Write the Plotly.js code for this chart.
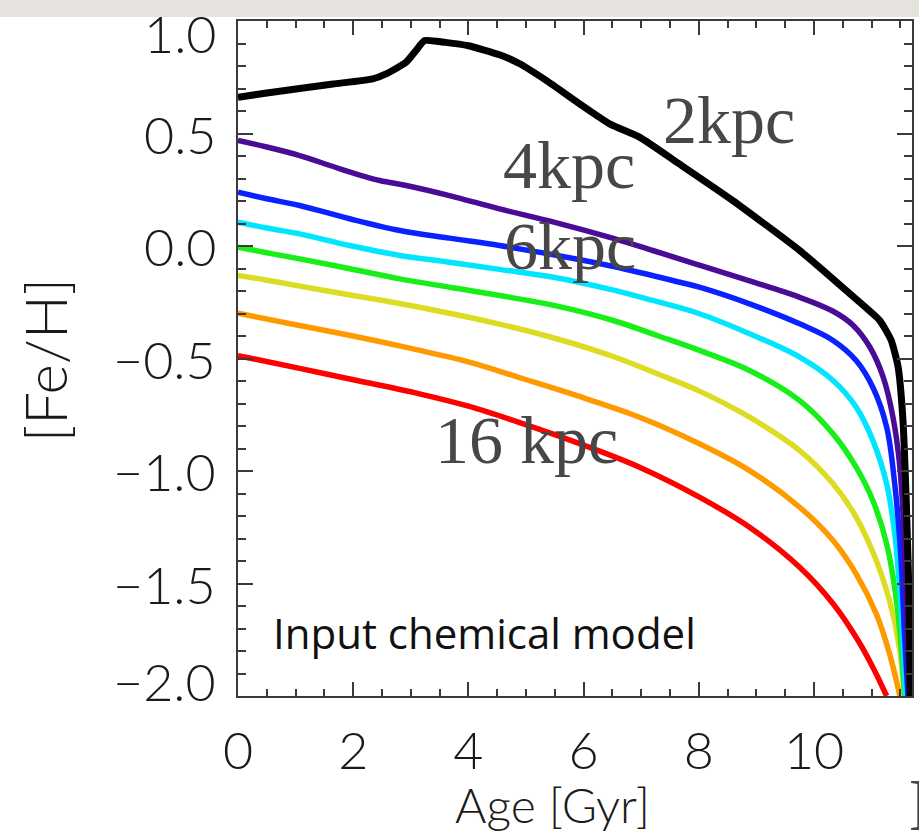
<!DOCTYPE html>
<html>
<head>
<meta charset="utf-8">
<script src="https://cdn.plot.ly/plotly-3.0.1.min.js"></script>
<style>
  html, body { margin: 0; padding: 0; background: #ffffff; }
  #chart { width: 919px; height: 832px; }
</style>
</head>
<body>
<div id="chart"></div>
<script>
// Radial metallicity history of the input chemical model: [Fe/H] against stellar age
const radiusNames = ['2 kpc', '4 kpc', '6 kpc', '8 kpc', '10 kpc', '12 kpc', '14 kpc', '16 kpc'];

const age_2kpc = [0, 0.5, 1.07, 1.65, 2.34, 2.57, 2.75, 2.92, 3.09, 3.24, 3.6, 4.0, 4.54, 4.89, 5.35, 5.93, 6.45, 6.97, 7.66, 8.59, 9.75, 10.62, 11.14, 11.34, 11.46, 11.54, 11.60, 11.65, 11.67];
const feh_2kpc = [0.661, 0.68, 0.70, 0.72, 0.743, 0.765, 0.79, 0.817, 0.869, 0.913, 0.905, 0.89, 0.85, 0.81, 0.736, 0.632, 0.543, 0.484, 0.365, 0.202, -0.02, -0.212, -0.331, -0.42, -0.539, -0.761, -1.131, -1.576, -2.0];

const age_4kpc = [0, 0.5, 1.07, 1.77, 2.46, 2.92, 3.67, 4.54, 5.5, 6.5, 7.2, 8.01, 8.88, 9.75, 10.33, 10.68, 10.97, 11.20, 11.37, 11.49, 11.56, 11.61, 11.65];
const feh_4kpc = [0.469, 0.44, 0.402, 0.343, 0.291, 0.269, 0.224, 0.165, 0.105, 0.035, -0.02, -0.085, -0.155, -0.228, -0.29, -0.353, -0.45, -0.583, -0.761, -0.983, -1.279, -1.65, -2.0];

const age_6kpc = [0, 0.5, 1.07, 1.94, 2.81, 3.67, 4.54, 5.5, 6.5, 7.67, 8.01, 8.88, 9.75, 10.33, 10.73, 11.02, 11.26, 11.40, 11.50, 11.57, 11.63];
const feh_6kpc = [0.239, 0.21, 0.18, 0.121, 0.069, 0.035, 0.002, -0.04, -0.09, -0.161, -0.183, -0.257, -0.346, -0.42, -0.509, -0.628, -0.805, -1.057, -1.353, -1.724, -2.0];

const age_8kpc = [0, 0.5, 1.07, 1.94, 2.81, 3.67, 4.54, 5.5, 6.5, 7.2, 8.01, 8.88, 9.75, 10.33, 10.73, 11.02, 11.26, 11.40, 11.50, 11.59];
const feh_8kpc = [0.106, 0.08, 0.054, 0.002, -0.042, -0.072, -0.104, -0.14, -0.195, -0.242, -0.301, -0.39, -0.494, -0.598, -0.716, -0.864, -1.057, -1.279, -1.576, -2.0];

const age_10kpc = [0, 0.5, 1.07, 1.94, 2.81, 3.67, 4.54, 5.5, 6.5, 7.3, 8.01, 8.88, 9.75, 10.33, 10.73, 11.02, 11.26, 11.43, 11.54, 11.57];
const feh_10kpc = [-0.005, -0.03, -0.057, -0.101, -0.146, -0.183, -0.22, -0.265, -0.33, -0.40, -0.464, -0.553, -0.687, -0.835, -0.983, -1.131, -1.324, -1.576, -1.872, -2.0];

const age_12kpc = [0, 0.5, 1.0, 2.0, 2.52, 3.5, 4.5, 5.5, 6.5, 7.3, 8.01, 8.88, 9.75, 10.33, 10.73, 11.08, 11.31, 11.49, 11.56];
const feh_12kpc = [-0.131, -0.152, -0.175, -0.22, -0.242, -0.29, -0.345, -0.41, -0.49, -0.57, -0.645, -0.761, -0.909, -1.057, -1.205, -1.398, -1.576, -1.798, -2.0];

const age_14kpc = [0, 1.0, 2.0, 3.0, 4.0, 4.95, 6.0, 6.97, 8.01, 8.88, 9.75, 10.33, 10.73, 11.08, 11.31, 11.49];
const feh_14kpc = [-0.299, -0.35, -0.40, -0.455, -0.515, -0.59, -0.675, -0.761, -0.879, -0.998, -1.161, -1.309, -1.457, -1.635, -1.812, -2.0];

const age_16kpc = [0, 1.07, 1.94, 3.15, 4.0, 4.89, 6.0, 6.97, 8.01, 8.88, 9.75, 10.33, 10.73, 11.02, 11.26];
const feh_16kpc = [-0.487, -0.544, -0.591, -0.657, -0.712, -0.785, -0.885, -0.983, -1.116, -1.25, -1.428, -1.59, -1.739, -1.872, -2.0];

const xTickVals = [0, 2, 4, 6, 8, 10];
const xTickText = ['0', '2', '4', '6', '8', '10'];
const yTickVals = [1.0, 0.5, 0.0, -0.5, -1.0, -1.5, -2.0];
const yTickText = ['1.0', '0.5', '0.0', '\u22120.5', '\u22121.0', '\u22121.5', '\u22122.0'];

const ages = [age_2kpc, age_4kpc, age_6kpc, age_8kpc, age_10kpc, age_12kpc, age_14kpc, age_16kpc];
const fehs = [feh_2kpc, feh_4kpc, feh_6kpc, feh_8kpc, feh_10kpc, feh_12kpc, feh_14kpc, feh_16kpc];

// rainbow palette, inner radii drawn last so the black curve sits on top
const palette = ['#000000', '#4a0c96', '#0a22ff', '#00e6ff', '#18ee18', '#dcdc22', '#ff9900', '#ff0000'];

const traces = [];
for (let i = ages.length - 1; i >= 0; i--) {
  traces.push({
    type: 'scatter',
    mode: 'lines',
    name: radiusNames[i],
    x: ages[i],
    y: fehs[i],
    line: {
      color: palette[i],
      width: i === 0 ? 7 : 5.5,
      shape: 'spline',
      smoothing: i === 0 ? 0.5 : 1.0
    },
    hoverinfo: 'x+y+name'
  });
}

const sansFamily = 'Lato, "DejaVu Sans", sans-serif';
const tickFont = { family: sansFamily, size: 52, color: '#1a1a1a', weight: 300 };
const serifLabel = { family: '"Liberation Serif", "DejaVu Serif", serif', size: 68, color: '#474747' };

const annotations = [];
// y tick labels (end labels are nudged inside the frame)
yTickVals.forEach((v, i) => {
  let shift = 0;
  if (i === 0) shift = -12;
  if (i === yTickVals.length - 1) shift = 15;
  annotations.push({
    xref: 'paper', yref: 'y', x: 0, y: v, xshift: -20, yshift: shift,
    xanchor: 'right', yanchor: 'middle', showarrow: false,
    text: yTickText[i], font: tickFont
  });
});

// axis titles
annotations.push({
  xref: 'paper', yref: 'paper', x: -0.286, y: 0.498, textangle: -90,
  xanchor: 'center', yanchor: 'middle', showarrow: false,
  text: '[Fe/H]', font: { family: sansFamily, size: 58, color: '#1a1a1a', weight: 300 }
});
annotations.push({
  xref: 'paper', yref: 'paper', x: 0.466, y: -0.161,
  xanchor: 'center', yanchor: 'middle', showarrow: false,
  text: 'Age [Gyr]', font: { family: sansFamily, size: 48, color: '#1a1a1a', weight: 300 }
});

// curve labels
annotations.push({ xref: 'x', yref: 'y', x: 8.52, y: 0.558, showarrow: false, xanchor: 'center', yanchor: 'middle', text: '2kpc', font: serifLabel });
annotations.push({ xref: 'x', yref: 'y', x: 5.74, y: 0.358, showarrow: false, xanchor: 'center', yanchor: 'middle', text: '4kpc', font: serifLabel });
annotations.push({ xref: 'x', yref: 'y', x: 5.76, y: 0.002, showarrow: false, xanchor: 'center', yanchor: 'middle', text: '6kpc', font: serifLabel });
annotations.push({ xref: 'x', yref: 'y', x: 5.01, y: -0.864, showarrow: false, xanchor: 'center', yanchor: 'middle', text: '16 kpc', font: serifLabel });

// panel caption
annotations.push({
  xref: 'x', yref: 'y', x: 0.58, y: -1.718, showarrow: false,
  xanchor: 'left', yanchor: 'middle', text: 'Input chemical model',
  font: { family: '"Open Sans", "Noto Sans", sans-serif', size: 42, color: '#111111' }
});

// start of the neighbouring panel's label, cut by the page edge
annotations.push({
  xref: 'paper', yref: 'paper', x: 0.9926, y: -0.162, showarrow: false,
  xanchor: 'left', yanchor: 'middle', text: 'M',
  font: { family: '"Liberation Serif", "DejaVu Serif", serif', size: 74, color: '#474747' }
});

const frameColor = '#3a3a3a';

const layout = {
  width: 919, height: 832,
  margin: { l: 238, r: 7, t: 21, b: 136 },
  paper_bgcolor: '#ffffff', plot_bgcolor: '#ffffff',
  showlegend: false,
  // boxed frame: ticks on all four sides, pointing into the panel
  xaxis: {
    range: [0, 11.7],
    ticks: 'inside', ticklen: 14, tickwidth: 2, tickcolor: frameColor,
    showline: true, linewidth: 2, linecolor: frameColor, mirror: 'allticks',
    tickvals: xTickVals, ticktext: xTickText,
    tickfont: tickFont, ticklabelstandoff: 9,
    showgrid: false, zeroline: false,
    minor: { dtick: 0.5, ticks: 'inside', ticklen: 7, tickwidth: 2, tickcolor: frameColor }
  },
  yaxis: {
    range: [-2, 1],
    ticks: 'inside', ticklen: 15, tickwidth: 2, tickcolor: frameColor,
    showline: true, linewidth: 2, linecolor: frameColor, mirror: 'allticks',
    tickvals: yTickVals, showticklabels: false,
    showgrid: false, zeroline: false,
    minor: { dtick: 0.1, ticks: 'inside', ticklen: 8, tickwidth: 2, tickcolor: frameColor }
  },
  shapes: [{
    type: 'rect', xref: 'paper', yref: 'paper', layer: 'below',
    x0: -0.4, x1: 1.1, y0: 1.0059, y1: 1.04,
    fillcolor: '#e6e3de', line: { width: 0 }
  }],
  annotations: annotations
};

Plotly.newPlot('chart', traces, layout, { staticPlot: true });
</script>
</body>
</html>
